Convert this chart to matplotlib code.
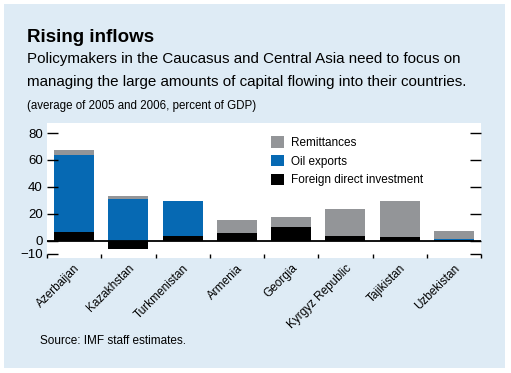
import numpy as np
import matplotlib
matplotlib.use("Agg")
import matplotlib.pyplot as plt
from matplotlib.patches import Rectangle

countries = ["Azerbaijan", "Kazakhstan", "Turkmenistan", "Armenia", "Georgia",
             "Kyrgyz Republic", "Tajikistan", "Uzbekistan"]
fdi = [6.3, -6.1, 3.3, 5.6, 10.0, 3.3, 2.6, 0.3]
oil = [57.3, 30.9, 26.1, 0.0, 0.0, 0.0, 0.0, 0.7]
remit = [3.7, 2.2, 0.0, 9.7, 7.5, 20.1, 26.8, 6.1]
yticks = [-10, 0, 20, 40, 60, 80]

blue = "#0669b3"
gray = "#939598"
panel = "#deebf5"

plt.rcParams['font.family'] = ['Liberation Sans', 'DejaVu Sans']

fig = plt.figure(figsize=(5.11, 3.73), dpi=100, facecolor="white")
fig.patches.append(Rectangle((4 / 511, 5 / 373), 501 / 511, 364 / 373,
                             transform=fig.transFigure, facecolor=panel,
                             edgecolor="none", zorder=-10))

fig.text(27 / 511, 1 - 42 / 373, "Rising inflows", fontsize=13.5,
         fontweight="bold", va="baseline")
fig.text(27 / 511, 1 - 63 / 373,
         "Policymakers in the Caucasus and Central Asia need to focus on",
         fontsize=10.9, va="baseline")
fig.text(27 / 511, 1 - 86 / 373,
         "managing the large amounts of capital flowing into their countries.",
         fontsize=10.9, va="baseline")
fig.text(27 / 511, 1 - 109 / 373, "(average of 2005 and 2006, percent of GDP)",
         fontsize=8.3, va="baseline")
fig.text(40 / 511, 1 - 344 / 373, "Source: IMF staff estimates.",
         fontsize=8.5, va="baseline")

ax = fig.add_axes([47 / 511, 115 / 373, 434 / 511, 135 / 373])
ax.set_facecolor("white")

x = np.arange(len(countries))
fdi = np.array(fdi)
oil = np.array(oil)
remit = np.array(remit)
base = np.clip(fdi, 0, None)
w = 0.74
ax.bar(x, remit, w, bottom=base + oil, color=gray, label="Remittances")
ax.bar(x, oil, w, bottom=base, color=blue, label="Oil exports")
ax.bar(x, fdi, w, color="black", label="Foreign direct investment")
ax.axhline(0, color="black", lw=1.3, zorder=3)

ax.set_xlim(-0.5, len(countries) - 0.5)
ax.set_ylim(-13, 87.5)
for s in ax.spines.values():
    s.set_visible(False)

ax.set_yticks(yticks)
ax.tick_params(axis="y", direction="in", length=8, width=1, left=True,
               right=True, labelsize=9.5, pad=3)
ax.set_xticks(np.arange(len(countries) + 1) - 0.5)
ax.set_xticklabels([])
ax.tick_params(axis="x", which="major", direction="in", length=3, width=1)
ax.set_xticks(x, countries, minor=True)
ax.tick_params(axis="x", which="minor", length=0, pad=3, labelsize=8.5)
for lab in ax.get_xticklabels(minor=True):
    lab.set_rotation(45)
    lab.set_ha("right")
    lab.set_va("top")
    lab.set_rotation_mode("anchor")

ax.legend(loc="upper left", bbox_to_anchor=(0.505, 0.935), frameon=False,
          fontsize=8.5, handlelength=1.1, handleheight=1.1, labelspacing=0.5,
          handletextpad=0.6, borderaxespad=0)

fig.savefig("out.png", dpi=100, facecolor="white")
